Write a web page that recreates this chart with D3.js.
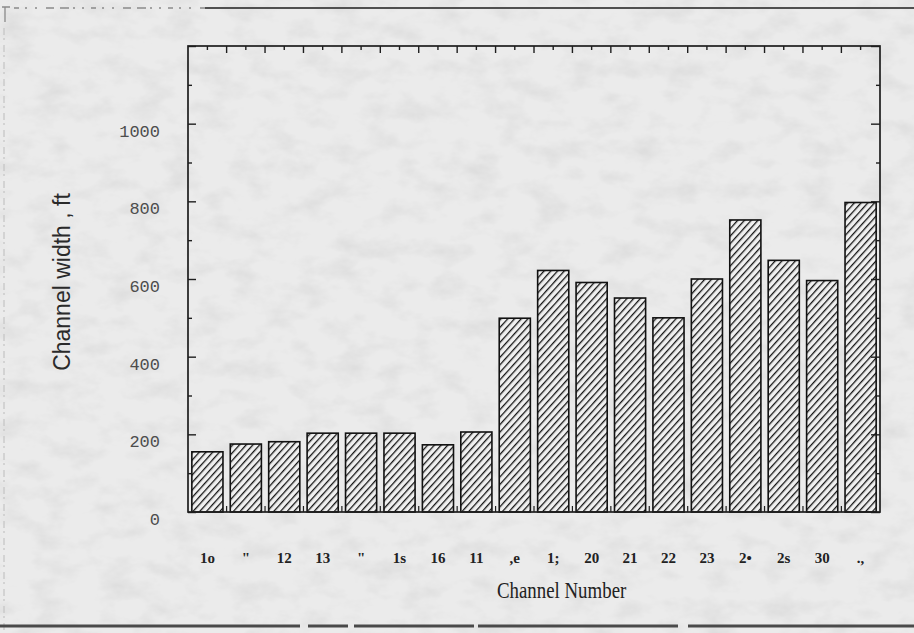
<!DOCTYPE html>
<html>
<head>
<meta charset="utf-8">
<script src="https://cdn.jsdelivr.net/npm/d3@7/dist/d3.min.js"></script>
<style>
  html, body { margin: 0; padding: 0; background: #ebebeb; }
  svg { display: block; }
</style>
</head>
<body>
<svg id="chart" width="914" height="633"></svg>
<script>
// Channel numbers as printed under each bar
const channelLabels = ["1o", "\"", "12", "13", "\"", "1s", "16", "11", ",e", "1;", "20", "21", "22", "23", "2\u2022", "2s", "30", ".,"];
// Channel width in feet for each channel
const channelWidths = [155, 175, 181, 203, 203, 203, 173, 206, 499, 622, 591, 551, 500, 600, 752, 648, 596, 797];
// Labelled ticks on the width axis
const yTickLabels = [0, 200, 400, 600, 800, 1000];

const W = 914, H = 633;
const plot = { left: 188, right: 880, top: 46, bottom: 512 };

const svg = d3.select("#chart");
const defs = svg.append("defs");

// faint paper grain
const paper = defs.append("filter").attr("id", "paper")
  .attr("x", 0).attr("y", 0).attr("width", "100%").attr("height", "100%");
paper.append("feTurbulence").attr("type", "fractalNoise")
  .attr("baseFrequency", "0.03 0.05").attr("numOctaves", 4).attr("seed", 11).attr("result", "n");
paper.append("feColorMatrix").attr("in", "n").attr("type", "matrix")
  .attr("values", "0 0 0 0 0.6  0 0 0 0 0.6  0 0 0 0 0.6  0 0 0 -0.9 0.5");

// diagonal hatching used to fill the bars
const hatch = defs.append("pattern").attr("id", "hatch")
  .attr("patternUnits", "userSpaceOnUse").attr("width", 5).attr("height", 5)
  .attr("patternTransform", "rotate(42)");
hatch.append("rect").attr("width", 5).attr("height", 5).attr("fill", "#f0f0f0");
hatch.append("line").attr("x1", 0).attr("y1", 0).attr("x2", 0).attr("y2", 5)
  .attr("stroke", "#141414").attr("stroke-width", 2.6);

svg.append("rect").attr("width", W).attr("height", H).attr("fill", "#ebebeb");
svg.append("rect").attr("width", W).attr("height", H).attr("filter", "url(#paper)");

// outer page frame
const frame = svg.append("g").attr("fill", "none");
frame.append("line").attr("x1", 205).attr("x2", W).attr("y1", 8).attr("y2", 8)
  .attr("stroke", "#505050").attr("stroke-width", 2);
frame.append("line").attr("x1", 14).attr("x2", 205).attr("y1", 8).attr("y2", 8)
  .attr("stroke", "#8a8a8a").attr("stroke-width", 1.4).attr("stroke-dasharray", "5 6 2 8 2 9 8 6 9 4 2 7 2 7");
frame.append("path").attr("d", "M2,7 H10 M5,7 V22").attr("stroke", "#8a8a8a").attr("stroke-width", 1.3);
frame.append("line").attr("x1", 4).attr("x2", 4).attr("y1", 28).attr("y2", H)
  .attr("stroke", "#c4c4c4").attr("stroke-width", 1.2).attr("stroke-dasharray", "7 3 2 5");
frame.append("line").attr("x1", 0).attr("x2", W).attr("y1", 626).attr("y2", 626)
  .attr("stroke", "#4a4a4a").attr("stroke-width", 3)
  .attr("stroke-dasharray", "300 8 40 6 120 4 200 10 400");

// scales
const x = d3.scaleBand().domain(d3.range(channelWidths.length))
  .range([plot.left, plot.right]).paddingInner(0.19).paddingOuter(0.1);
const y = d3.scaleLinear().domain([0, 1200]).range([plot.bottom, plot.top]);

// bars
svg.append("g").selectAll("rect").data(channelWidths).join("rect")
  .attr("x", (d, i) => x(i))
  .attr("y", d => y(d))
  .attr("width", x.bandwidth())
  .attr("height", d => y(0) - y(d))
  .attr("fill", "url(#hatch)")
  .attr("stroke", "#111").attr("stroke-width", 1.6);

const axisColor = "#1e1e1e";
function styleAxis(g) {
  g.select(".domain").remove();
  g.selectAll(".tick line").attr("stroke", axisColor).attr("stroke-width", 1.4);
}

// inward ticks on left and right edges
const major = d3.range(0, 1201, 200);
const minor = d3.range(100, 1200, 200);
svg.append("g").attr("transform", `translate(${plot.left},0)`)
  .call(d3.axisLeft(y).tickValues(major).tickSize(-8).tickFormat(""))
  .call(styleAxis);
svg.append("g").attr("transform", `translate(${plot.left},0)`)
  .call(d3.axisLeft(y).tickValues(minor).tickSize(-4).tickFormat(""))
  .call(styleAxis);
svg.append("g").attr("transform", `translate(${plot.right},0)`)
  .call(d3.axisRight(y).tickValues(major).tickSize(-9).tickFormat(""))
  .call(styleAxis);
svg.append("g").attr("transform", `translate(${plot.right},0)`)
  .call(d3.axisRight(y).tickValues(minor).tickSize(-4).tickFormat(""))
  .call(styleAxis);

// width labels
const yl = svg.append("g").attr("transform", `translate(${plot.left},0)`)
  .call(d3.axisLeft(y).tickValues(yTickLabels).tickSize(0).tickPadding(28).tickFormat(d3.format("d")))
  .call(g => g.select(".domain").remove());
yl.selectAll(".tick text")
  .attr("dy", "0.32em").attr("y", 7)
  .attr("font-family", "'Liberation Mono', 'DejaVu Sans Mono', monospace")
  .attr("font-size", 17).attr("fill", "#4d4d4d");

// top edge ticks at every half band step
const step = x.step();
const halfTicks = d3.range(channelWidths.length * 2 + 1)
  .map(k => ({ pos: x(0) - x.paddingInner() * step / 2 + k * step / 2, edge: k % 2 === 0 }))
  .filter(t => t.pos > plot.left + 2 && t.pos < plot.right - 2);
svg.append("g").selectAll("line").data(halfTicks).join("line")
  .attr("x1", d => d.pos).attr("x2", d => d.pos)
  .attr("y1", plot.top).attr("y2", d => plot.top + (d.edge ? 7 : 4))
  .attr("stroke", axisColor).attr("stroke-width", 1.4);
// bottom edge ticks between bars
svg.append("g").selectAll("line").data(halfTicks.filter(t => t.edge)).join("line")
  .attr("x1", d => d.pos).attr("x2", d => d.pos)
  .attr("y1", plot.bottom).attr("y2", plot.bottom - 6)
  .attr("stroke", axisColor).attr("stroke-width", 1.2);

// plot frame
svg.append("rect")
  .attr("x", plot.left).attr("y", plot.top)
  .attr("width", plot.right - plot.left).attr("height", plot.bottom - plot.top)
  .attr("fill", "none").attr("stroke", axisColor).attr("stroke-width", 1.7);

// channel labels
const xl = svg.append("g").attr("transform", `translate(0,${plot.bottom})`)
  .call(d3.axisBottom(x).tickSize(0).tickPadding(40).tickFormat(i => channelLabels[i]))
  .call(g => g.select(".domain").remove());
xl.selectAll(".tick text")
  .attr("font-family", "'Liberation Serif', 'Times New Roman', serif")
  .attr("font-weight", "bold").attr("font-size", 15).attr("fill", "#222");

// axis titles
svg.append("text")
  .attr("transform", "translate(497,598) scale(0.82,1)")
  .attr("font-family", "'Liberation Serif', 'Times New Roman', serif")
  .attr("font-size", 23).attr("fill", "#222")
  .text("Channel Number");

svg.append("text")
  .attr("transform", "translate(70,282) rotate(-90)")
  .attr("text-anchor", "middle")
  .attr("font-family", "'Liberation Sans', Arial, sans-serif")
  .attr("font-size", 23).attr("fill", "#2a2a2a")
  .text("Channel width , ft");
</script>
</body>
</html>
